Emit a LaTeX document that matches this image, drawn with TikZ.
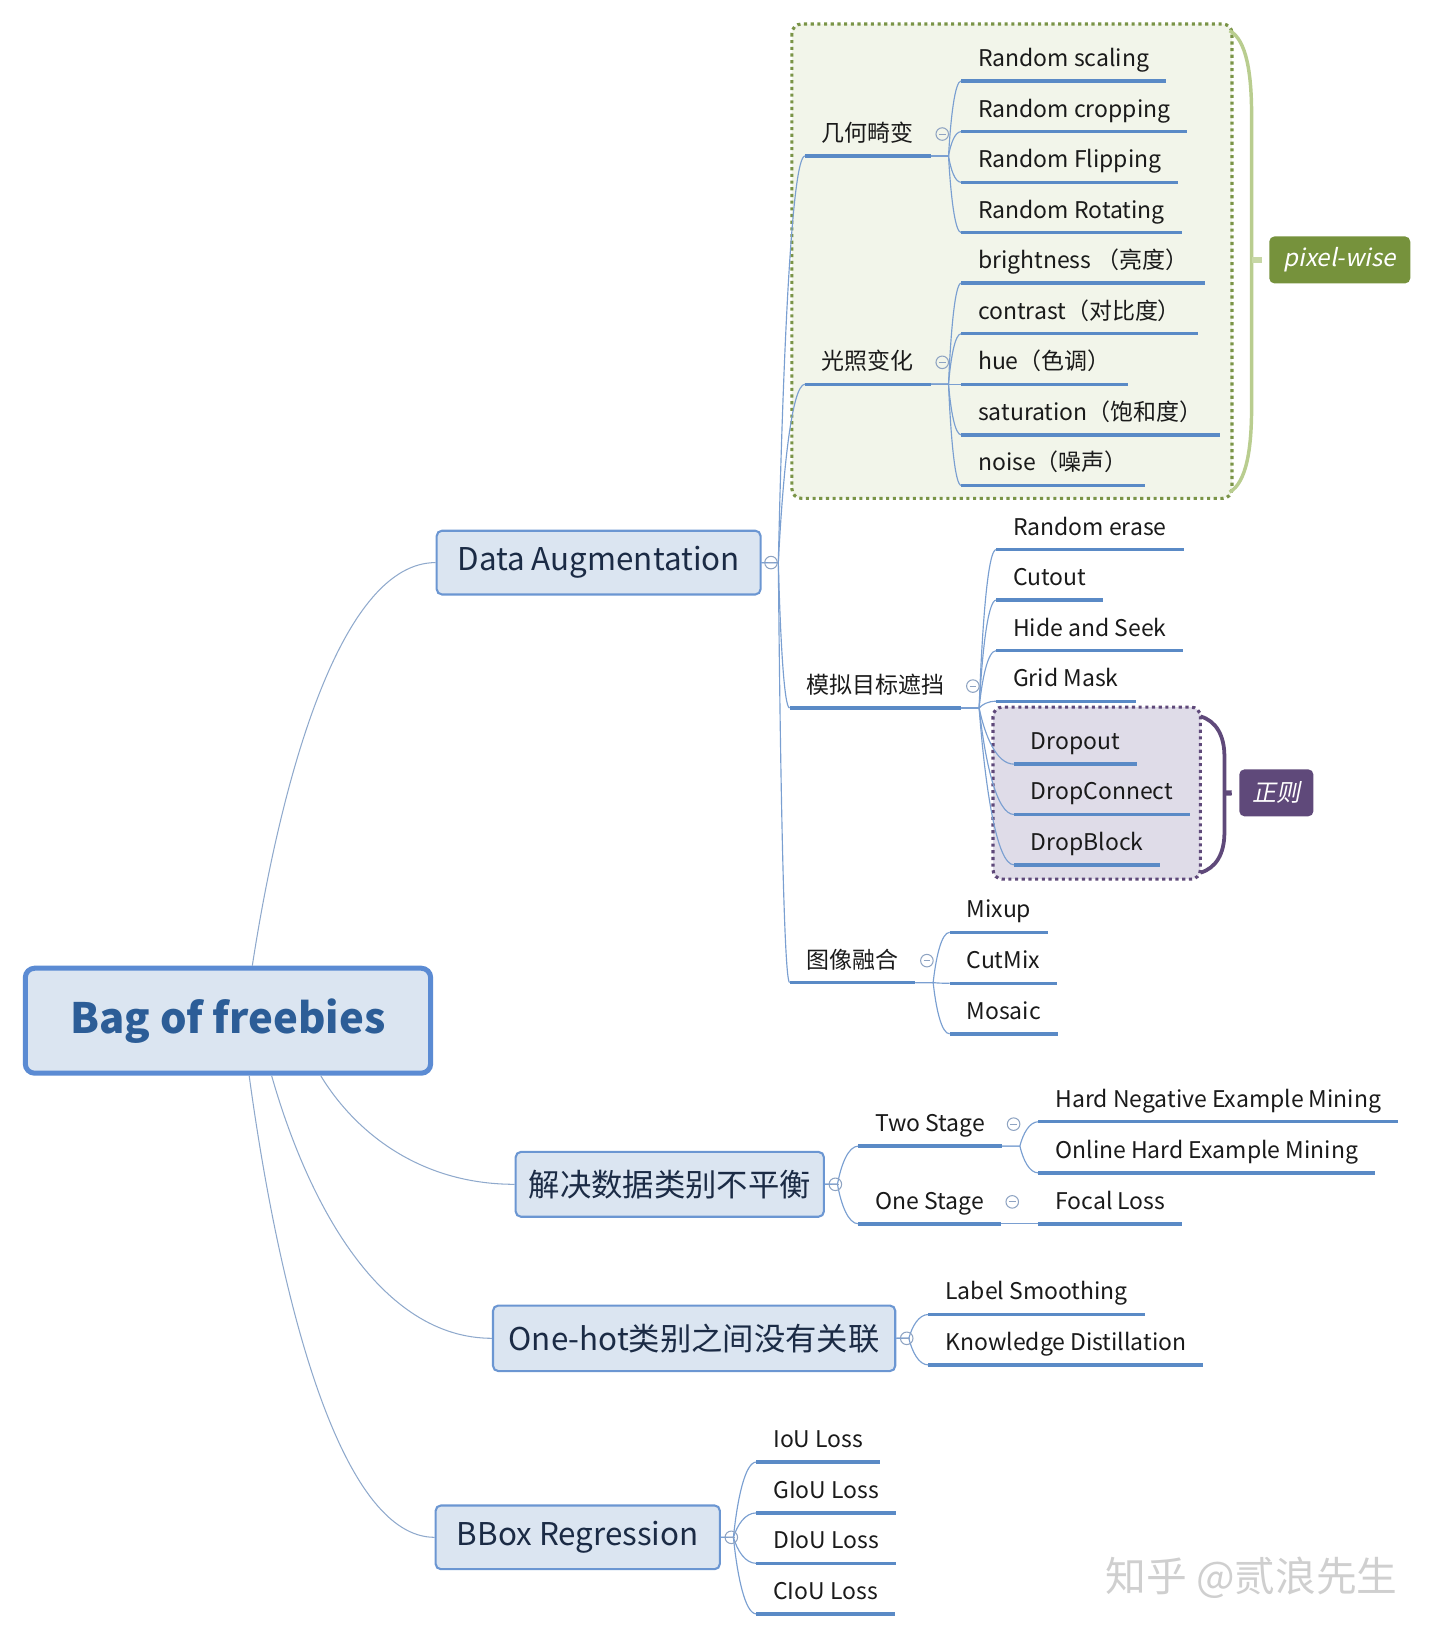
\documentclass[tikz,border=0pt]{standalone}
\usepackage{fontspec}
\setmainfont{Noto Sans CJK SC}
\newfontfamily\slantfont[FakeSlant=0.2]{Noto Sans CJK SC}
\usetikzlibrary{calc}

\definecolor{ulblue}{HTML}{5A8AC6}
\definecolor{linkblue}{HTML}{7A9FD1}
\definecolor{rootblue}{HTML}{8FA9CC}
\definecolor{boxfill}{HTML}{DBE5F1}
\definecolor{boxline}{HTML}{6B96D2}
\definecolor{rootline}{HTML}{5B8BD3}
\definecolor{roottext}{HTML}{2C5D97}
\definecolor{boxtext}{HTML}{1B2B45}
\definecolor{topictext}{HTML}{1A1A1A}
\definecolor{foldline}{HTML}{8EA3C2}
\definecolor{greenfill}{HTML}{F2F5EA}
\definecolor{greendot}{HTML}{7A9447}
\definecolor{greenbrace}{HTML}{B9CD8F}
\definecolor{greentag}{HTML}{76923C}
\definecolor{purplefill}{HTML}{DFDCE8}
\definecolor{purpletag}{HTML}{5F497A}
\definecolor{wmgray}{HTML}{CFCFCF}

\begin{document}
\begin{tikzpicture}[x=1pt, y=-1pt,
    box/.style={draw=boxline, fill=boxfill, line width=2pt, rounded corners=5pt,
      minimum height=61pt, inner sep=0pt, font=\fontsize{30}{35}\selectfont, text=boxtext},
    topic/.style={anchor=south west, inner xsep=16pt, inner ysep=0pt, text height=19pt,
      text depth=13.7pt, font=\fontsize{22}{26}\selectfont, text=topictext},
    fold/.style={circle, draw=foldline, line width=1pt, minimum size=12pt, inner sep=0pt,
      path picture={\draw[foldline, line width=1pt] ([xshift=-3.2pt]path picture bounding box.center)
        -- ([xshift=3.2pt]path picture bounding box.center);}},
    link/.style={draw=linkblue, line width=1.1pt,
      to path={let \p1=($(\tikztostart)+(#1,0)$), \p2=(\tikztotarget) in -- (\p1)
        .. controls ({\x1+0.17*(\x2-\x1)},{\y1+0.5*(\y2-\y1)}) and ({0.5*(\x1+\x2)},{\y2}) .. (\tikztotarget)}},
    link/.default=0,
    rootlink/.style={link, draw=rootblue, line width=1pt},
    uline/.style={draw=ulblue, line width=3.3pt},
    group/.style={line width=3pt, dash pattern=on 3pt off 3.4pt, rounded corners=9pt},
    tag/.style={rounded corners=5pt, text=white, font=\slantfont\fontsize{23}{27}\selectfont,
      minimum height=45pt, inner sep=0pt},
  ]
  \useasboundingbox (0,0) rectangle (1378,1565);

  % dotted groups and braces
  \draw[group, draw=greendot, fill=greenfill] (758,23) rectangle (1179.3,477);
  \draw[group, draw=purpletag, fill=purplefill] (950.5,676.8) rectangle (1149,841.5);

  \node[tag, fill=greentag, minimum width=135pt] (pw) at (1282.4,248.8) {pixel-wise};
  \node[tag, fill=purpletag, minimum width=71pt] (reg) at (1221.7,758.9) {正则};

  \draw[line width=3.3pt, draw=greenbrace] (1177,29.4) .. controls (1193,38) and (1198,70) .. (1198,110)
    -- (1198,390) .. controls (1198,430) and (1193,462) .. (1177,471);
  \draw[line width=5pt, draw=greenbrace!80] (1198,248.8) -- ([xshift=-7pt]pw.west);
  \draw[line width=3.6pt, draw=purpletag] (1149,685.7) .. controls (1164,690) and (1172,704) .. (1172,724)
    -- (1172,797) .. controls (1172,817) and (1164,831) .. (1149,835.3);
  \draw[line width=5pt, draw=purpletag] (1172,759.2) -- ([xshift=-7pt]reg.west);

  % root and main branches
  \node[box, line width=4.8pt, draw=rootline, rounded corners=9pt, minimum width=388pt,
    minimum height=100.5pt, font=\fontsize{40}{48}\selectfont\bfseries, text=roottext] (root) at (218.2,977) {Bag of freebies};
  \node[box, minimum width=310pt] (da) at (573,538.5) {Data Augmentation};
  \node[box, minimum width=295pt, minimum height=62pt] (imb) at (641.1,1133.6) {解决数据类别不平衡};
  \node[box, minimum width=385pt, minimum height=62.7pt] (hot) at (664.4,1281) {One-hot类别之间没有关联};
  \node[box, minimum width=272pt] (bbox) at (553,1471.5) {BBox Regression};

  % data augmentation
  \node[topic] (geo) at (770.5,149.3) {几何畸变};
  \node[topic] (light) at (770.5,367.8) {光照变化};
  \node[topic] (occ) at (755.8,677.7) {模拟目标遮挡};
  \node[topic] (mix) at (755.8,940.5) {图像融合};

  \node[topic] (geo1) at (920,77.5) {Random scaling};
  \node[topic] (geo2) at (920,126) {Random cropping};
  \node[topic] (geo3) at (920,174.5) {Random Flipping};
  \node[topic] (geo4) at (920,222.7) {Random Rotating};

  \node[topic] (light1) at (920,271) {brightness （亮度）};
  \node[topic] (light2) at (920,319.4) {contrast（对比度）};
  \node[topic] (light3) at (920,367.8) {hue（色调）};
  \node[topic] (light4) at (920,416.2) {saturation（饱和度）};
  \node[topic] (light5) at (920,464.6) {noise（噪声）};

  \node[topic] (occ1) at (953.5,526) {Random erase};
  \node[topic] (occ2) at (953.5,574.4) {Cutout};
  \node[topic] (occ3) at (953.5,622.8) {Hide and Seek};
  \node[topic] (occ4) at (953.5,671.2) {Grid Mask};
  \node[topic] (occ5) at (970.5,731.4) {Dropout};
  \node[topic] (occ6) at (970.5,779.6) {DropConnect};
  \node[topic] (occ7) at (970.5,827.8) {DropBlock};

  \node[topic] (mix1) at (909,892.4) {Mixup};
  \node[topic] (mix2) at (909,941.2) {CutMix};
  \node[topic] (mix3) at (909,989.6) {Mosaic};

  % class imbalance
  \node[topic] (two) at (821.7,1097) {Two Stage};
  \node[topic] (one) at (821.7,1171.4) {One Stage};
  \node[topic] (two1) at (994,1073.7) {Hard Negative Example Mining};
  \node[topic] (two2) at (994,1122.7) {Online Hard Example Mining};
  \node[topic] (one1) at (994,1171.4) {Focal Loss};

  % one-hot
  \node[topic] (hot1) at (888.7,1258.2) {Label Smoothing};
  \node[topic] (hot2) at (888.7,1306.5) {Knowledge Distillation};

  % bbox regression
  \node[topic] (bbox1) at (724,1399.4) {IoU Loss};
  \node[topic] (bbox2) at (724,1448.1) {GIoU Loss};
  \node[topic] (bbox3) at (724,1496.4) {DIoU Loss};
  \node[topic] (bbox4) at (724,1544.8) {CIoU Loss};

  \draw
  ([xshift=23.3pt]root.north) edge[rootlink] (da.west)
  ([xshift=88.8pt]root.south) edge[rootlink] (imb.west)
  ([xshift=41.8pt]root.south) edge[rootlink] (hot.west)
  ([xshift=20.3pt]root.south) edge[rootlink] (bbox.west)
  (da.east) edge[link=16] (geo.south west)
  (da.east) edge[link=16] (light.south west)
  (da.east) edge[link=16] (occ.south west)
  (da.east) edge[link=16] (mix.south west)
  (geo.south east) edge[link=17] (geo1.south west)
  (geo.south east) edge[link=17] (geo2.south west)
  (geo.south east) edge[link=17] (geo3.south west)
  (geo.south east) edge[link=17] (geo4.south west)
  (light.south east) edge[link=17] (light1.south west)
  (light.south east) edge[link=17] (light2.south west)
  (light.south east) edge[link=17] (light3.south west)
  (light.south east) edge[link=17] (light4.south west)
  (light.south east) edge[link=17] (light5.south west)
  (occ.south east) edge[link=17] (occ1.south west)
  (occ.south east) edge[link=17] (occ2.south west)
  (occ.south east) edge[link=17] (occ3.south west)
  (occ.south east) edge[link=17] (occ4.south west)
  (occ.south east) edge[link=17] (occ5.south west)
  (occ.south east) edge[link=17] (occ6.south west)
  (occ.south east) edge[link=17] (occ7.south west)
  (mix.south east) edge[link=17] (mix1.south west)
  (mix.south east) edge[link=17] (mix2.south west)
  (mix.south east) edge[link=17] (mix3.south west)
  (imb.east) edge[link=12] (two.south west)
  (imb.east) edge[link=12] (one.south west)
  (two.south east) edge[link=17] (two1.south west)
  (two.south east) edge[link=17] (two2.south west)
  (one.south east) edge[link=17] (one1.south west)
  (hot.east) edge[link=12] (hot1.south west)
  (hot.east) edge[link=12] (hot2.south west)
  (bbox.east) edge[link=12] (bbox1.south west)
  (bbox.east) edge[link=12] (bbox2.south west)
  (bbox.east) edge[link=12] (bbox3.south west)
  (bbox.east) edge[link=12] (bbox4.south west)
  ;

  % underlines
  \foreach \n in {geo,light,occ,mix,geo1,geo2,geo3,geo4,light1,light2,light3,light4,light5,
    occ1,occ2,occ3,occ4,occ5,occ6,occ7,mix1,mix2,mix3,two,one,two1,two2,one1,hot1,hot2,
    bbox1,bbox2,bbox3,bbox4}
    \draw[uline] (\n.south west) -- (\n.south east);

  % fold buttons
  \node[fold] (fda) at ([xshift=9pt]da.east) {};
  \node[fold] (fimb) at ([xshift=10pt]imb.east) {};
  \node[fold] (fhot) at ([xshift=10pt]hot.east) {};
  \node[fold] (fbbox) at ([xshift=10pt]bbox.east) {};
  \node[fold] (fgeo) at ([shift={(11,-21)}]geo.south east) {};
  \node[fold] (flight) at ([shift={(11,-21)}]light.south east) {};
  \node[fold] (focc) at ([shift={(11,-21)}]occ.south east) {};
  \node[fold] (fmix) at ([shift={(11,-21)}]mix.south east) {};
  \node[fold] (ftwo) at ([shift={(11,-21)}]two.south east) {};
  \node[fold] (fone) at ([shift={(11,-21)}]one.south east) {};

  \node[text=wmgray, font=\fontsize{39}{44}\selectfont] (mark) at (1198,1510) {知乎 @贰浪先生};
\end{tikzpicture}
\end{document}
